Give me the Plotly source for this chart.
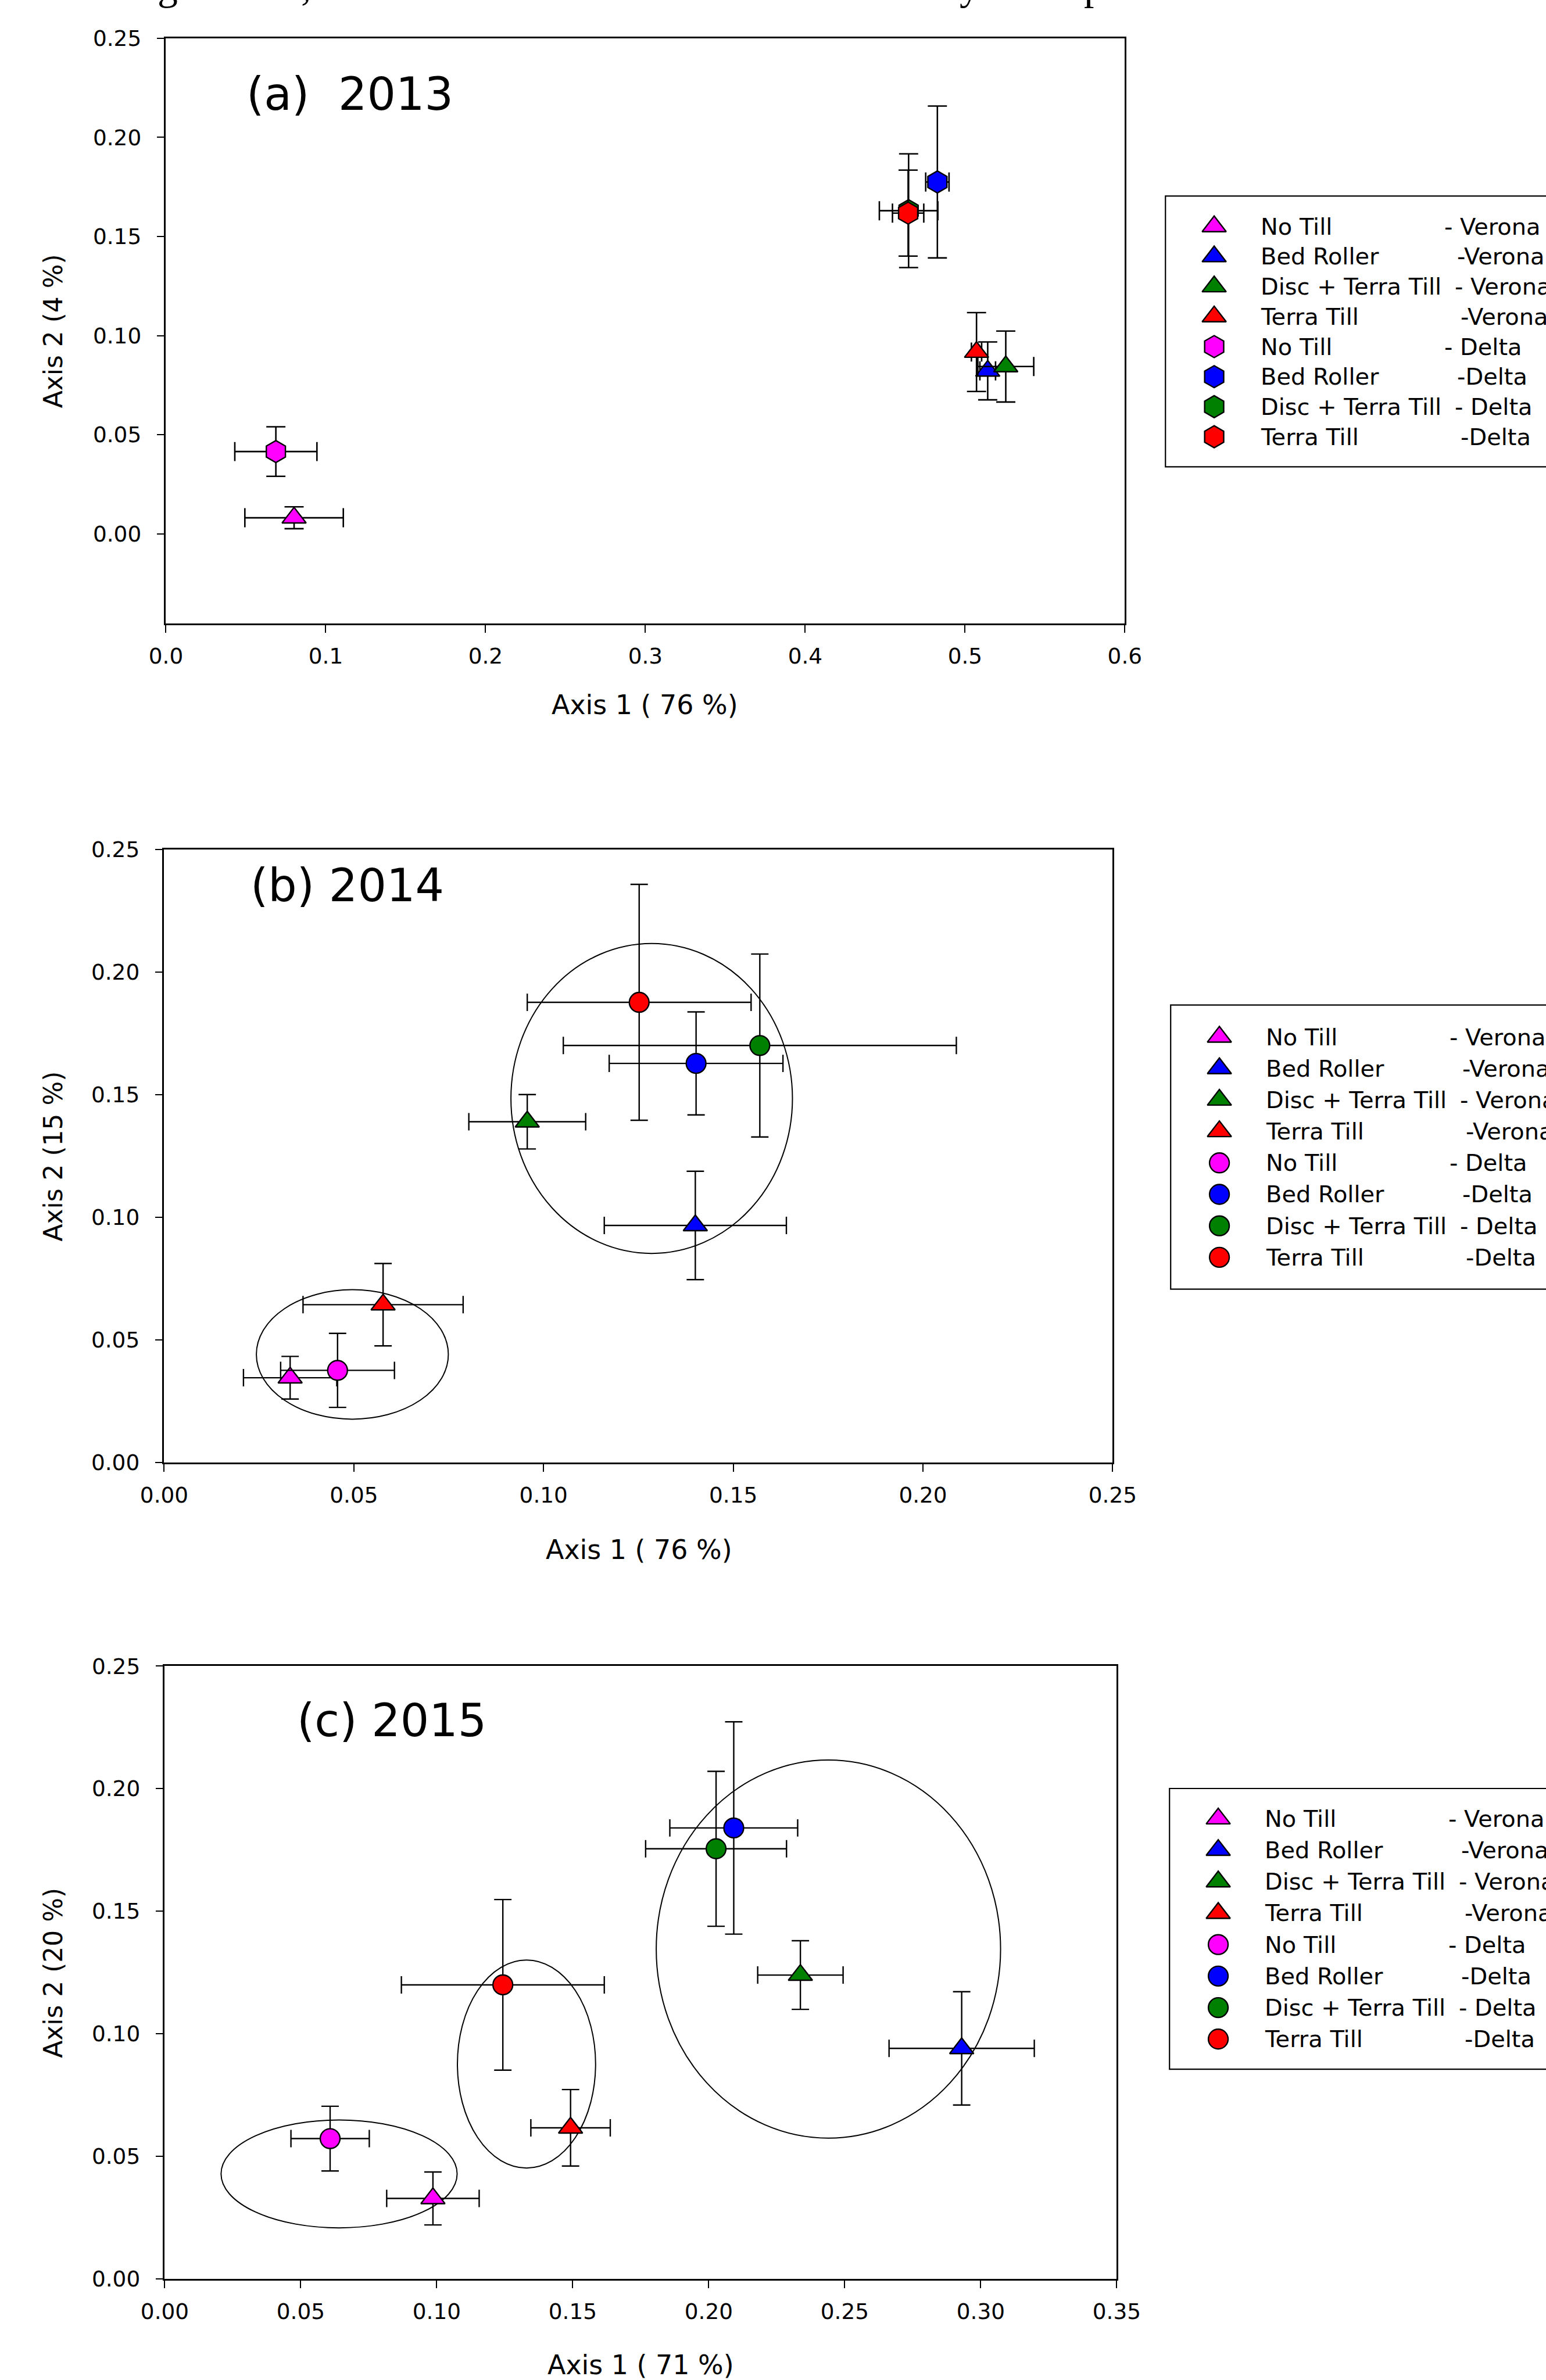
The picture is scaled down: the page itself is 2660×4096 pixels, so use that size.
import plotly.graph_objects as go

# ---------------------------------------------------------------- data
series_names = ["No Till", "Bed Roller", "Disc + Terra Till", "Terra Till",
                "No Till", "Bed Roller", "Disc + Terra Till", "Terra Till"]
legend_suffix = ["- Verona", "-Verona", "- Verona", "-Verona",
                 "- Delta", "-Delta", "- Delta", "-Delta"]

# (a) 2013   order: NT-V, BR-V, DT-V, TT-V, NT-D, BR-D, DT-D, TT-D
x_2013 = [0.0802, 0.5142, 0.5255, 0.5072, 0.0688, 0.4827, 0.4647, 0.4644]
y_2013 = [0.0081, 0.0822, 0.0844, 0.0917, 0.0415, 0.1775, 0.1630, 0.1618]
xerr_2013 = [0.0308, 0.0049, 0.0175, 0.0032, 0.0257, 0.0073, 0.0183, 0.0098]
yerr_2013 = [0.0055, 0.0146, 0.0179, 0.0199, 0.0125, 0.0383, 0.0287, 0.0217]

# (b) 2014
x_2014 = [0.0332, 0.1400, 0.0957, 0.0577, 0.0457, 0.1402, 0.1570, 0.1252]
y_2014 = [0.0346, 0.0967, 0.1390, 0.0644, 0.0376, 0.1628, 0.1701, 0.1877]
xerr_2014 = [0.0123, 0.0240, 0.0154, 0.0211, 0.0150, 0.0229, 0.0518, 0.0295]
yerr_2014 = [0.0087, 0.0221, 0.0111, 0.0168, 0.0151, 0.0210, 0.0373, 0.0481]

# (c) 2015
x_2015 = [0.0986, 0.2930, 0.2337, 0.1492, 0.0608, 0.2092, 0.2027, 0.1243]
y_2015 = [0.0329, 0.0941, 0.1240, 0.0617, 0.0573, 0.1840, 0.1755, 0.1200]
xerr_2015 = [0.0170, 0.0267, 0.0157, 0.0146, 0.0144, 0.0235, 0.0259, 0.0373]
yerr_2015 = [0.0108, 0.0231, 0.0140, 0.0156, 0.0132, 0.0433, 0.0316, 0.0348]

# grouping ellipses: centre x, centre y, half-width, half-height
ellipses_2013 = []
ellipses_2014 = [(0.1285, 0.1485, 0.0371, 0.0632), (0.0496, 0.0441, 0.0253, 0.0264)]
ellipses_2015 = [(0.2440, 0.1346, 0.0633, 0.0771), (0.1330, 0.0877, 0.0254, 0.0424),
                 (0.0641, 0.0429, 0.0434, 0.0220)]

panel_titles = ["(a)  2013", "(b) 2014", "(c) 2015"]
axis1_titles = ["Axis 1 ( 76 %)", "Axis 1 ( 76 %)", "Axis 1 ( 71 %)"]
axis2_titles = ["Axis 2 (4 %)", "Axis 2 (15 %)", "Axis 2 (20 %)"]

xticks_2013 = [0.0, 0.1, 0.2, 0.3, 0.4, 0.5, 0.6]
xticklabels_2013 = ["0.0", "0.1", "0.2", "0.3", "0.4", "0.5", "0.6"]
xticks_2014 = [0.0, 0.05, 0.10, 0.15, 0.20, 0.25]
xticklabels_2014 = ["0.00", "0.05", "0.10", "0.15", "0.20", "0.25"]
xticks_2015 = [0.0, 0.05, 0.10, 0.15, 0.20, 0.25, 0.30, 0.35]
xticklabels_2015 = ["0.00", "0.05", "0.10", "0.15", "0.20", "0.25", "0.30", "0.35"]
yticks = [0.0, 0.05, 0.10, 0.15, 0.20, 0.25]
yticklabels = ["0.00", "0.05", "0.10", "0.15", "0.20", "0.25"]

xrange_2013, yrange_2013 = [0, 0.6], [-0.0452, 0.25]
xrange_2014, yrange_2014 = [0, 0.25], [0, 0.25]
xrange_2015, yrange_2015 = [0, 0.35], [0, 0.25]

# caption fragments visible at the very top edge
caption_glyphs = ["g", ",", "y", "p"]

# ---------------------------------------------------------------- style / geometry
S = 0.998
W_REF, H_REF = 2665, 4104
FONT = "DejaVu Sans"
COLORS = ["#FF00FF", "#0000FF", "#008000", "#FF0000"] * 2


def fx(px):
    return px / W_REF


def fy(py):
    return 1 - py / H_REF


panels = [
    dict(x=x_2013, y=y_2013, xe=xerr_2013, ye=yerr_2013, ell=ellipses_2013,
         xt=xticks_2013, xtl=xticklabels_2013, xr=xrange_2013, yr=yrange_2013,
         box=(286, 66, 1939, 1075), delta_symbol="hexagon",
         title_pos=(423, 162), xtitle_pos=(1112, 1215),
         leg=(2009, 338, 805, 390.5, 51.8)),
    dict(x=x_2014, y=y_2014, xe=xerr_2014, ye=yerr_2014, ell=ellipses_2014,
         xt=xticks_2014, xtl=xticklabels_2014, xr=xrange_2014, yr=yrange_2014,
         box=(283, 1465, 1918, 2522), delta_symbol="circle",
         title_pos=(430, 1527), xtitle_pos=(1102, 2672),
         leg=(2018, 1733, 2223, 1788, 54.3)),
    dict(x=x_2015, y=y_2015, xe=xerr_2015, ye=yerr_2015, ell=ellipses_2015,
         xt=xticks_2015, xtl=xticklabels_2015, xr=xrange_2015, yr=yrange_2015,
         box=(284, 2873, 1925, 3930), delta_symbol="circle",
         title_pos=(510, 2967), xtitle_pos=(1105, 4078),
         leg=(2016, 3084, 3568, 3136, 54.3)),
]

SIZE = {"triangle-up": 36, "hexagon": 38, "circle": 34}
MARKER_FROM_LEFT = 84
TEXT_FROM_LEFT = 162
SUFFIX_FROM_TEXT = [317, 339, 335, 345] * 2

fig = go.Figure()
layout = dict(
    width=2660, height=4096,
    margin=dict(l=0, r=0, t=0, b=0, pad=0, autoexpand=False),
    paper_bgcolor="white", plot_bgcolor="white",
    showlegend=False,
    font=dict(family=FONT, color="black"),
)
annotations = []
shapes = []

for i, p in enumerate(panels):
    k = "" if i == 0 else str(i + 1)
    xa, ya = "x" + k, "y" + k
    left, top, right, bottom = p["box"]
    symbols = ["triangle-up"] * 4 + [p["delta_symbol"]] * 4
    ebw = 2.6 if i == 0 else 2.4
    capw = 16.5 if i == 0 else 15

    for j in range(8):
        fig.add_trace(go.Scatter(
            x=[p["x"][j]], y=[p["y"][j]], mode="markers",
            name=series_names[j] + " " + legend_suffix[j],
            marker=dict(symbol=symbols[j], size=SIZE[symbols[j]] * S, color=COLORS[j],
                        opacity=1, line=dict(color="black", width=2.4 * S)),
            error_x=dict(type="data", array=[p["xe"][j]], color="black",
                         thickness=ebw * S, width=capw * S),
            error_y=dict(type="data", array=[p["ye"][j]], color="black",
                         thickness=ebw * S, width=capw * S),
            xaxis=xa, yaxis=ya, cliponaxis=False,
        ))

    for (cx, cy, rx, ry) in p["ell"]:
        shapes.append(dict(type="circle", xref=xa, yref=ya,
                           x0=cx - rx, x1=cx + rx, y0=cy - ry, y1=cy + ry,
                           line=dict(color="black", width=2.0 * S), layer="below"))

    axis_common = dict(
        showline=True, linecolor="black", linewidth=2.6 * S, mirror=True,
        ticks="outside", ticklen=13 * S, tickwidth=2.5 * S, tickcolor="black",
        showgrid=False, zeroline=False, fixedrange=True, automargin=False,
        tickfont=dict(family=FONT, size=37.5 * S, color="black"),
    )
    layout["xaxis" + k] = dict(axis_common, domain=[fx(left), fx(right)], range=p["xr"],
                               tickvals=p["xt"], ticktext=p["xtl"], anchor=ya,
                               ticklabelstandoff=8)
    layout["yaxis" + k] = dict(axis_common, domain=[fy(bottom), fy(top)], range=p["yr"],
                               tickvals=yticks, ticktext=yticklabels, anchor=xa,
                               ticklabelstandoff=19)

    # panel title
    tx, ty = p["title_pos"]
    annotations.append(dict(text=panel_titles[i], xref="paper", yref="paper",
                            x=fx(tx), y=fy(ty), xanchor="left", yanchor="middle",
                            showarrow=False, font=dict(family=FONT, size=78 * S)))
    # axis titles
    ax_x, ax_y = p["xtitle_pos"]
    annotations.append(dict(text=axis1_titles[i], xref="paper", yref="paper",
                            x=fx(ax_x), y=fy(ax_y), xanchor="center", yanchor="middle",
                            showarrow=False, font=dict(family=FONT, size=46 * S)))
    annotations.append(dict(text=axis2_titles[i], xref="paper", yref="paper",
                            x=fx(92), y=fy((top + bottom) / 2), xanchor="center",
                            yanchor="middle", textangle=-90,
                            showarrow=False, font=dict(family=FONT, size=44 * S)))

    # ------------------------------------------------ legend (own hidden axes)
    lk = str(i + 4)
    lleft, ltop, lbottom, first_row, row_step = p["leg"]
    layout["xaxis" + lk] = dict(domain=[fx(lleft), 1.0], range=[0, W_REF - lleft],
                                visible=False, fixedrange=True, anchor="y" + lk)
    layout["yaxis" + lk] = dict(domain=[fy(lbottom), fy(ltop)], range=[lbottom - ltop, 0],
                                visible=False, fixedrange=True, anchor="x" + lk)
    rows = [first_row - ltop + r * row_step for r in range(8)]
    fig.add_trace(go.Scatter(
        x=[MARKER_FROM_LEFT] * 8, y=rows, mode="markers",
        marker=dict(symbol=symbols, size=[SIZE[s] * S for s in symbols], color=COLORS,
                    opacity=1, line=dict(color="black", width=2.4 * S)),
        xaxis="x" + lk, yaxis="y" + lk, cliponaxis=False, hoverinfo="skip",
    ))
    for r in range(8):
        annotations.append(dict(text=series_names[r], xref="x" + lk, yref="y" + lk,
                                x=TEXT_FROM_LEFT, y=rows[r], xanchor="left", yanchor="middle",
                                showarrow=False, font=dict(family=FONT, size=40 * S)))
        annotations.append(dict(text=legend_suffix[r], xref="x" + lk, yref="y" + lk,
                                x=TEXT_FROM_LEFT + SUFFIX_FROM_TEXT[r], y=rows[r],
                                xanchor="left", yanchor="middle",
                                showarrow=False, font=dict(family=FONT, size=40 * S)))
    shapes.append(dict(type="rect", xref="paper", yref="paper",
                       x0=fx(lleft), x1=1.05, y0=fy(lbottom), y1=fy(ltop),
                       line=dict(color="black", width=2.2 * S), fillcolor="rgba(0,0,0,0)"))

# caption fragments (descenders of a cut-off caption line)
for g, gx in zip(caption_glyphs, [289, 527, 1672, 1886]):
    annotations.append(dict(text=g, xref="paper", yref="paper", x=fx(gx), y=fy(-25),
                            xanchor="center", yanchor="middle", showarrow=False,
                            font=dict(family="Liberation Serif", size=70 * S)))

layout["annotations"] = annotations
layout["shapes"] = shapes
fig.update_layout(**layout)
fig.write_html("out.html", config={"displayModeBar": False},
               post_script="document.body.style.margin='0px';")
